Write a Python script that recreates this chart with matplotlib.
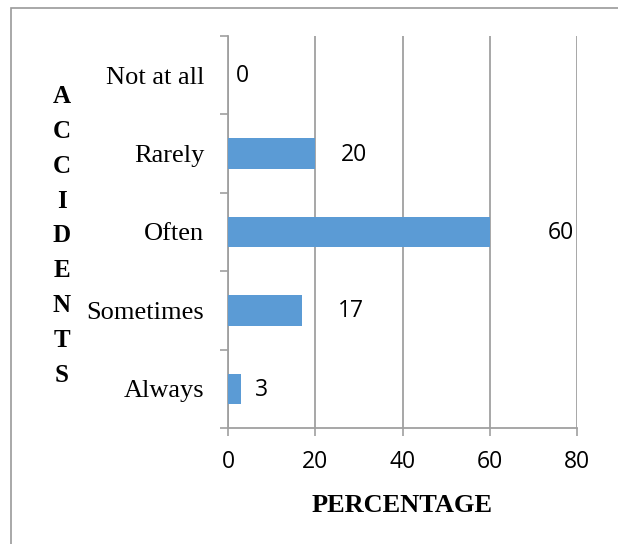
import matplotlib
matplotlib.use("Agg")
import matplotlib.pyplot as plt
from matplotlib.patches import Rectangle

# responses, bottom to top as drawn
categorias = ["Always", "Sometimes", "Often", "Rarely", "Not at all"]
percentuais = [3, 17, 60, 20, 0]
xticks = [0, 20, 40, 60, 80]

AZUL = "#5B9BD5"
CINZA = "#a0a0a0"
SERIF = "Liberation Serif"
SANS = "Open Sans"

fig = plt.figure(figsize=(6.18, 5.44), dpi=100)
ax = fig.add_axes([228 / 618, 1 - 428 / 544, 349 / 618, 392 / 544])

ys = list(range(len(categorias)))
barras = ax.barh(ys, percentuais, height=0.39, color=AZUL, zorder=3)

# labels sit a little to the right of each bar end (pixel offsets)
desloc = [20, 49, 71, 39, 14]
for b, v, d in zip(barras, percentuais, desloc):
    ax.annotate(str(v), (v, b.get_y() + b.get_height() / 2),
                xytext=(d, -1), textcoords="offset pixels",
                ha="center", va="center", fontsize=16.5, family=SANS)

ax.set_xlim(0, 80)
ax.set_ylim(-0.5, len(categorias) - 0.5)
ax.set_xticks(xticks)
ax.set_xticklabels([str(t) for t in xticks], family=SANS, fontsize=16.5)
ax.tick_params(axis="x", length=6, width=1.2, color=CINZA, pad=10)

# category ticks at boundaries, names at centres
ax.set_yticks([y - 0.5 for y in ys] + [len(ys) - 0.5])
ax.set_yticklabels([])
ax.set_yticks(ys, minor=True)
ax.set_yticklabels(categorias, minor=True, family=SERIF, fontsize=19)
ax.tick_params(axis="y", which="major", length=6, width=1.2, color=CINZA)
ax.tick_params(axis="y", which="minor", length=0, pad=17)

ax.grid(axis="x", color=CINZA, linewidth=1.3, zorder=0)
for lado in ("top", "right"):
    ax.spines[lado].set_visible(False)
for lado in ("left", "bottom"):
    ax.spines[lado].set_color(CINZA)
    ax.spines[lado].set_linewidth(1.3)

ax.set_xlabel("PERCENTAGE", family=SERIF, fontweight="bold", fontsize=19, labelpad=14)
fig.text(62 / 618, 1 - 236 / 544, "\n".join("ACCIDENTS"), ha="center", va="center",
         family=SERIF, fontweight="bold", fontsize=18, linespacing=1.66)

# outer frame, open at right and bottom
fig.patches.append(Rectangle((10.5 / 618, -0.1), 1.2, 1 - 7.5 / 544 + 0.1,
                             transform=fig.transFigure, fill=False,
                             edgecolor="#9a9a9a", linewidth=1.2))

fig.savefig("out.png", dpi=100)
